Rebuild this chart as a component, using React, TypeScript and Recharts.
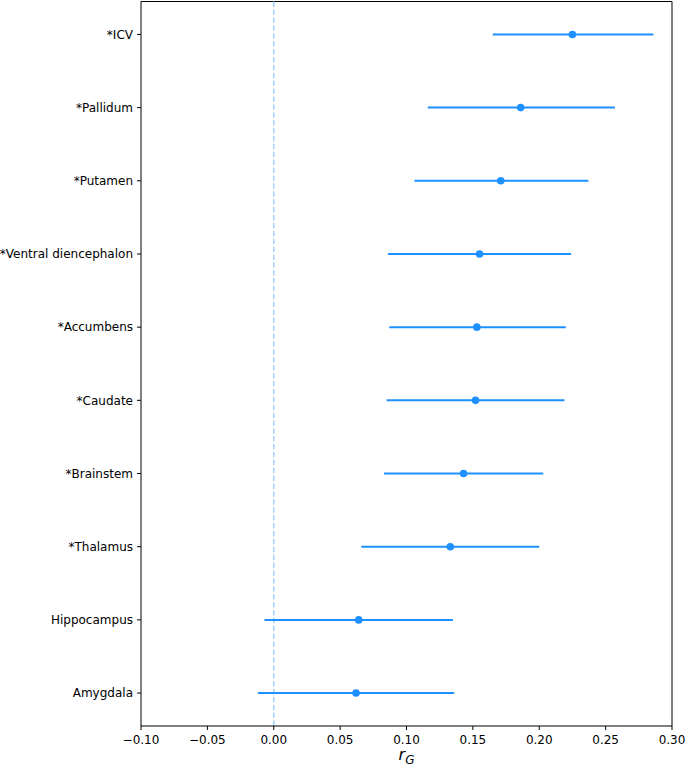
import {
  ErrorBar,
  Label,
  ReferenceLine,
  Scatter,
  ScatterChart,
  XAxis,
  YAxis,
} from "recharts";

const BLUE = "#1e90ff";
const FONT = "DejaVu Sans, sans-serif";

const regions = [
  "*ICV",
  "*Pallidum",
  "*Putamen",
  "*Ventral diencephalon",
  "*Accumbens",
  "*Caudate",
  "*Brainstem",
  "*Thalamus",
  "Hippocampus",
  "Amygdala",
];
const estimates = [0.225, 0.186, 0.171, 0.155, 0.153, 0.152, 0.143, 0.133, 0.064, 0.062];
const lower = [0.165, 0.116, 0.106, 0.086, 0.087, 0.085, 0.083, 0.066, -0.007, -0.012];
const upper = [0.286, 0.257, 0.237, 0.224, 0.22, 0.219, 0.203, 0.2, 0.135, 0.136];
const xTicks = [-0.1, -0.05, 0, 0.05, 0.1, 0.15, 0.2, 0.25, 0.3];

const rows = regions.map((name, i) => ({
  name,
  idx: i,
  r: estimates[i],
  err: [estimates[i] - lower[i], upper[i] - estimates[i]],
}));

const fmtX = (v: number) => (v < 0 ? "\u2212" + Math.abs(v).toFixed(2) : v.toFixed(2));

function RgLabel(props: any) {
  const vb = props.viewBox || { x: 141, y: 726, width: 531 };
  const cx = vb.x + vb.width / 2;
  return (
    <text x={cx} y={vb.y + 34} textAnchor="middle" fontFamily={FONT} fontStyle="italic" fill="#000">
      <tspan fontSize={16}>r</tspan>
      <tspan fontSize={12} dy={4}>G</tspan>
    </text>
  );
}

// one line per region, no wrapping
function RegionTick(props: any) {
  const { x, y, payload } = props;
  return (
    <text x={x} y={y} dy="0.355em" textAnchor="end" fontFamily={FONT} fontSize={12} fill="#000">
      {regions[payload.value] ?? ""}
    </text>
  );
}

export default function App() {
  return (
    <div style={{ position: "absolute", left: 0, top: 0, background: "#fff" }}>
      <ScatterChart width={685} height={766} margin={{ top: 1.5, right: 0, bottom: 0, left: 0 }}>
        <XAxis
          type="number"
          dataKey="r"
          domain={[-0.1, 0.3]}
          ticks={xTicks}
          tickFormatter={fmtX}
          allowDataOverflow
          height={40}
          axisLine={{ stroke: "#000" }}
          tickSize={4}
          tickMargin={5}
          tickLine={{ stroke: "#000" }}
          tick={{ fontFamily: FONT, fontSize: 12, fill: "#000" }}
        >
          <Label content={RgLabel} />
        </XAxis>
        <YAxis
          type="number"
          dataKey="idx"
          domain={[-0.45, 9.45]}
          reversed
          ticks={regions.map((_, i) => i)}
          interval={0}
          allowDataOverflow
          width={141}
          axisLine={{ stroke: "#000" }}
          tickSize={4}
          tickMargin={4}
          tickLine={{ stroke: "#000" }}
          tick={<RegionTick />}
        />
        <YAxis
          yAxisId="right"
          orientation="right"
          type="number"
          domain={[-0.45, 9.45]}
          width={13}
          tick={false}
          tickLine={false}
          axisLine={{ stroke: "#000" }}
        />
        <ReferenceLine y={-0.45} stroke="#000" strokeWidth={1} ifOverflow="visible" />
        <ReferenceLine
          x={0}
          stroke="#a6d2ff"
          strokeWidth={1.5}
          strokeDasharray="5.5 2.4"
        />
        <Scatter
          data={rows}
          isAnimationActive={false}
          shape={(p: any) => <circle cx={p.cx} cy={p.cy} r={3.8} fill={BLUE} />}
        >
          <ErrorBar dataKey="err" direction="x" width={0} stroke={BLUE} strokeWidth={2} />
        </Scatter>
      </ScatterChart>
    </div>
  );
}
